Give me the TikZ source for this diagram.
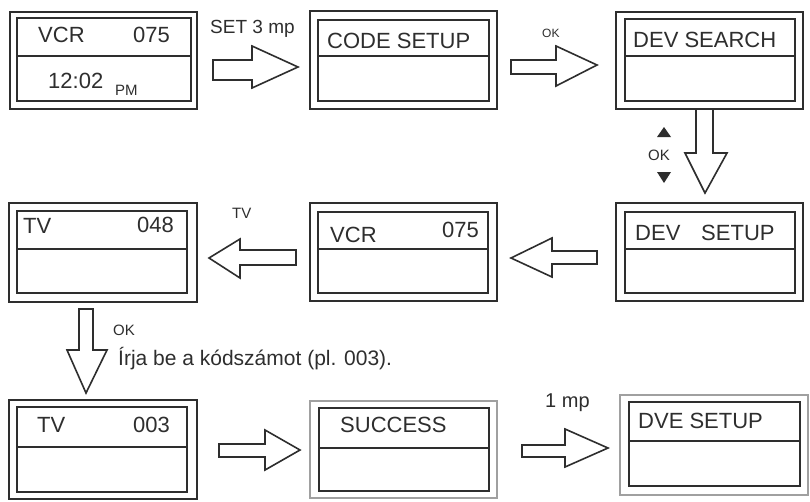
\documentclass[tikz,border=0pt]{standalone}
\usepackage{fontspec}
\setmainfont{Liberation Sans}
\definecolor{ink}{HTML}{2E2E2E}
\definecolor{lightink}{HTML}{A0A0A0}
\begin{document}
\begin{tikzpicture}[x=1pt,y=-1pt,
  outerbox/.style={draw=ink,line width=1.4pt},
  outerlight/.style={draw=lightink,line width=1.4pt},
  innerbox/.style={draw=ink,line width=1.2pt},
  blk/.style={draw=ink,line width=1.6pt,fill=white,line join=miter},
  big/.style={inner sep=0pt,anchor=base west,text=ink,font=\fontsize{22}{24}\selectfont},
  lbl/.style={inner sep=0pt,anchor=base west,text=ink},
  tri/.style={fill=ink,draw=none}]
\useasboundingbox (0,0) rectangle (810,501);
\fill[white] (0,0) rectangle (810,501);

% ---- screens ----
% B1
\draw[outerbox] (10,12) rectangle (197,109);
\draw[innerbox] (17,18) rectangle (191,101);
\draw[innerbox] (17,56) -- (191,56);
\node[big] (b1a) at (38,42) {VCR};
\node[big] (b1b) at (133,42) {075};
\node[big] (b1c) at (48,88) {12:02};
\node[lbl,font=\fontsize{15}{17}\selectfont] (b1d) at (115,95) {PM};
% B2
\draw[outerbox] (310,11) rectangle (497,109);
\draw[innerbox] (318,20) rectangle (489,101);
\draw[innerbox] (318,56) -- (489,56);
\node[big] (b2a) at (327,48) {CODE SETUP};
% B3
\draw[outerbox] (616,12) rectangle (803,109);
\draw[innerbox] (625,19) rectangle (795,101);
\draw[innerbox] (625,56) -- (795,56);
\node[big] (b3a) at (633,47) {DEV SEARCH};
% B4
\draw[outerbox] (9,203) rectangle (197,302);
\draw[innerbox] (17,211) rectangle (187,293);
\draw[innerbox] (17,249) -- (187,249);
\node[big] (b4a) at (23,233) {TV};
\node[big] (b4b) at (137,232) {048};
% B5
\draw[outerbox] (310,203) rectangle (497,301);
\draw[innerbox] (318,212) rectangle (488,293);
\draw[innerbox] (318,249) -- (488,249);
\node[big] (b5a) at (330,242) {VCR};
\node[big] (b5b) at (442,237) {075};
% B6
\draw[outerbox] (616,203) rectangle (803,301);
\draw[innerbox] (625,212) rectangle (795,293);
\draw[innerbox] (625,249) -- (795,249);
\node[big] (b6a) at (635,240) {DEV};
\node[big] (b6b) at (701,240) {SETUP};
% B7
\draw[outerbox] (9,400) rectangle (197,499);
\draw[innerbox] (17,407) rectangle (187,492);
\draw[innerbox] (17,447) -- (187,447);
\node[big] (b7a) at (37,432) {TV};
\node[big] (b7b) at (133,432) {003};
% B8
\draw[outerlight] (310,401) rectangle (497,498);
\draw[innerbox] (319,408) rectangle (489,491);
\draw[innerbox] (319,448) -- (489,448);
\node[big] (b8a) at (340,432) {SUCCESS};
% B9
\draw[outerlight] (620,395) rectangle (808,495);
\draw[innerbox] (629,402) rectangle (800,486);
\draw[innerbox] (629,441) -- (800,441);
\node[big] (b9a) at (638,428) {DVE SETUP};

% ---- block arrows ----
\draw[blk] (213,60) -- (252,60) -- (252,46) -- (298,67) -- (252,88) -- (252,80) -- (213,80) -- cycle;
\draw[blk] (511,60) -- (556,60) -- (556,46) -- (597,65) -- (556,86) -- (556,74) -- (511,74) -- cycle;
\draw[blk] (696,109) -- (713,109) -- (713,153) -- (727,153) -- (705,193) -- (685,153) -- (696,153) -- cycle;
\draw[blk] (597,251) -- (552,251) -- (552,238) -- (511,258) -- (552,277) -- (552,264) -- (597,264) -- cycle;
\draw[blk] (296,250) -- (240,250) -- (240,239) -- (209,258) -- (240,278) -- (240,265) -- (296,265) -- cycle;
\draw[blk] (79,309) -- (93,309) -- (93,350) -- (107,350) -- (86,393) -- (67,350) -- (79,350) -- cycle;
\draw[blk] (219,444) -- (265,444) -- (265,430) -- (300,450) -- (265,470) -- (265,457) -- (219,457) -- cycle;
\draw[blk] (522,445) -- (565,445) -- (565,429) -- (608,448) -- (565,467) -- (565,457) -- (522,457) -- cycle;

% ---- triangles ----
\fill[tri] (657,137) -- (671,137) -- (664,127) -- cycle;
\fill[tri] (657,172) -- (671,172) -- (664,183) -- cycle;

% ---- labels ----
\node[lbl,font=\fontsize{19}{21}\selectfont] (l1) at (210,33) {SET 3 mp};
\node[lbl,font=\fontsize{12}{14}\selectfont] (l2) at (542,37) {OK};
\node[lbl,font=\fontsize{15}{17}\selectfont] (l3) at (648,160) {OK};
\node[lbl,font=\fontsize{15}{17}\selectfont] (l4) at (232,218) {TV};
\node[lbl,font=\fontsize{15}{17}\selectfont] (l5) at (113,335) {OK};
\node[lbl,font=\fontsize{21}{23}\selectfont] (l6) at (118,365) {Írja be a kódszámot (pl. 003).};
\node[lbl,font=\fontsize{20}{22}\selectfont] (l7) at (545,407) {1 mp};
\end{tikzpicture}
\end{document}
